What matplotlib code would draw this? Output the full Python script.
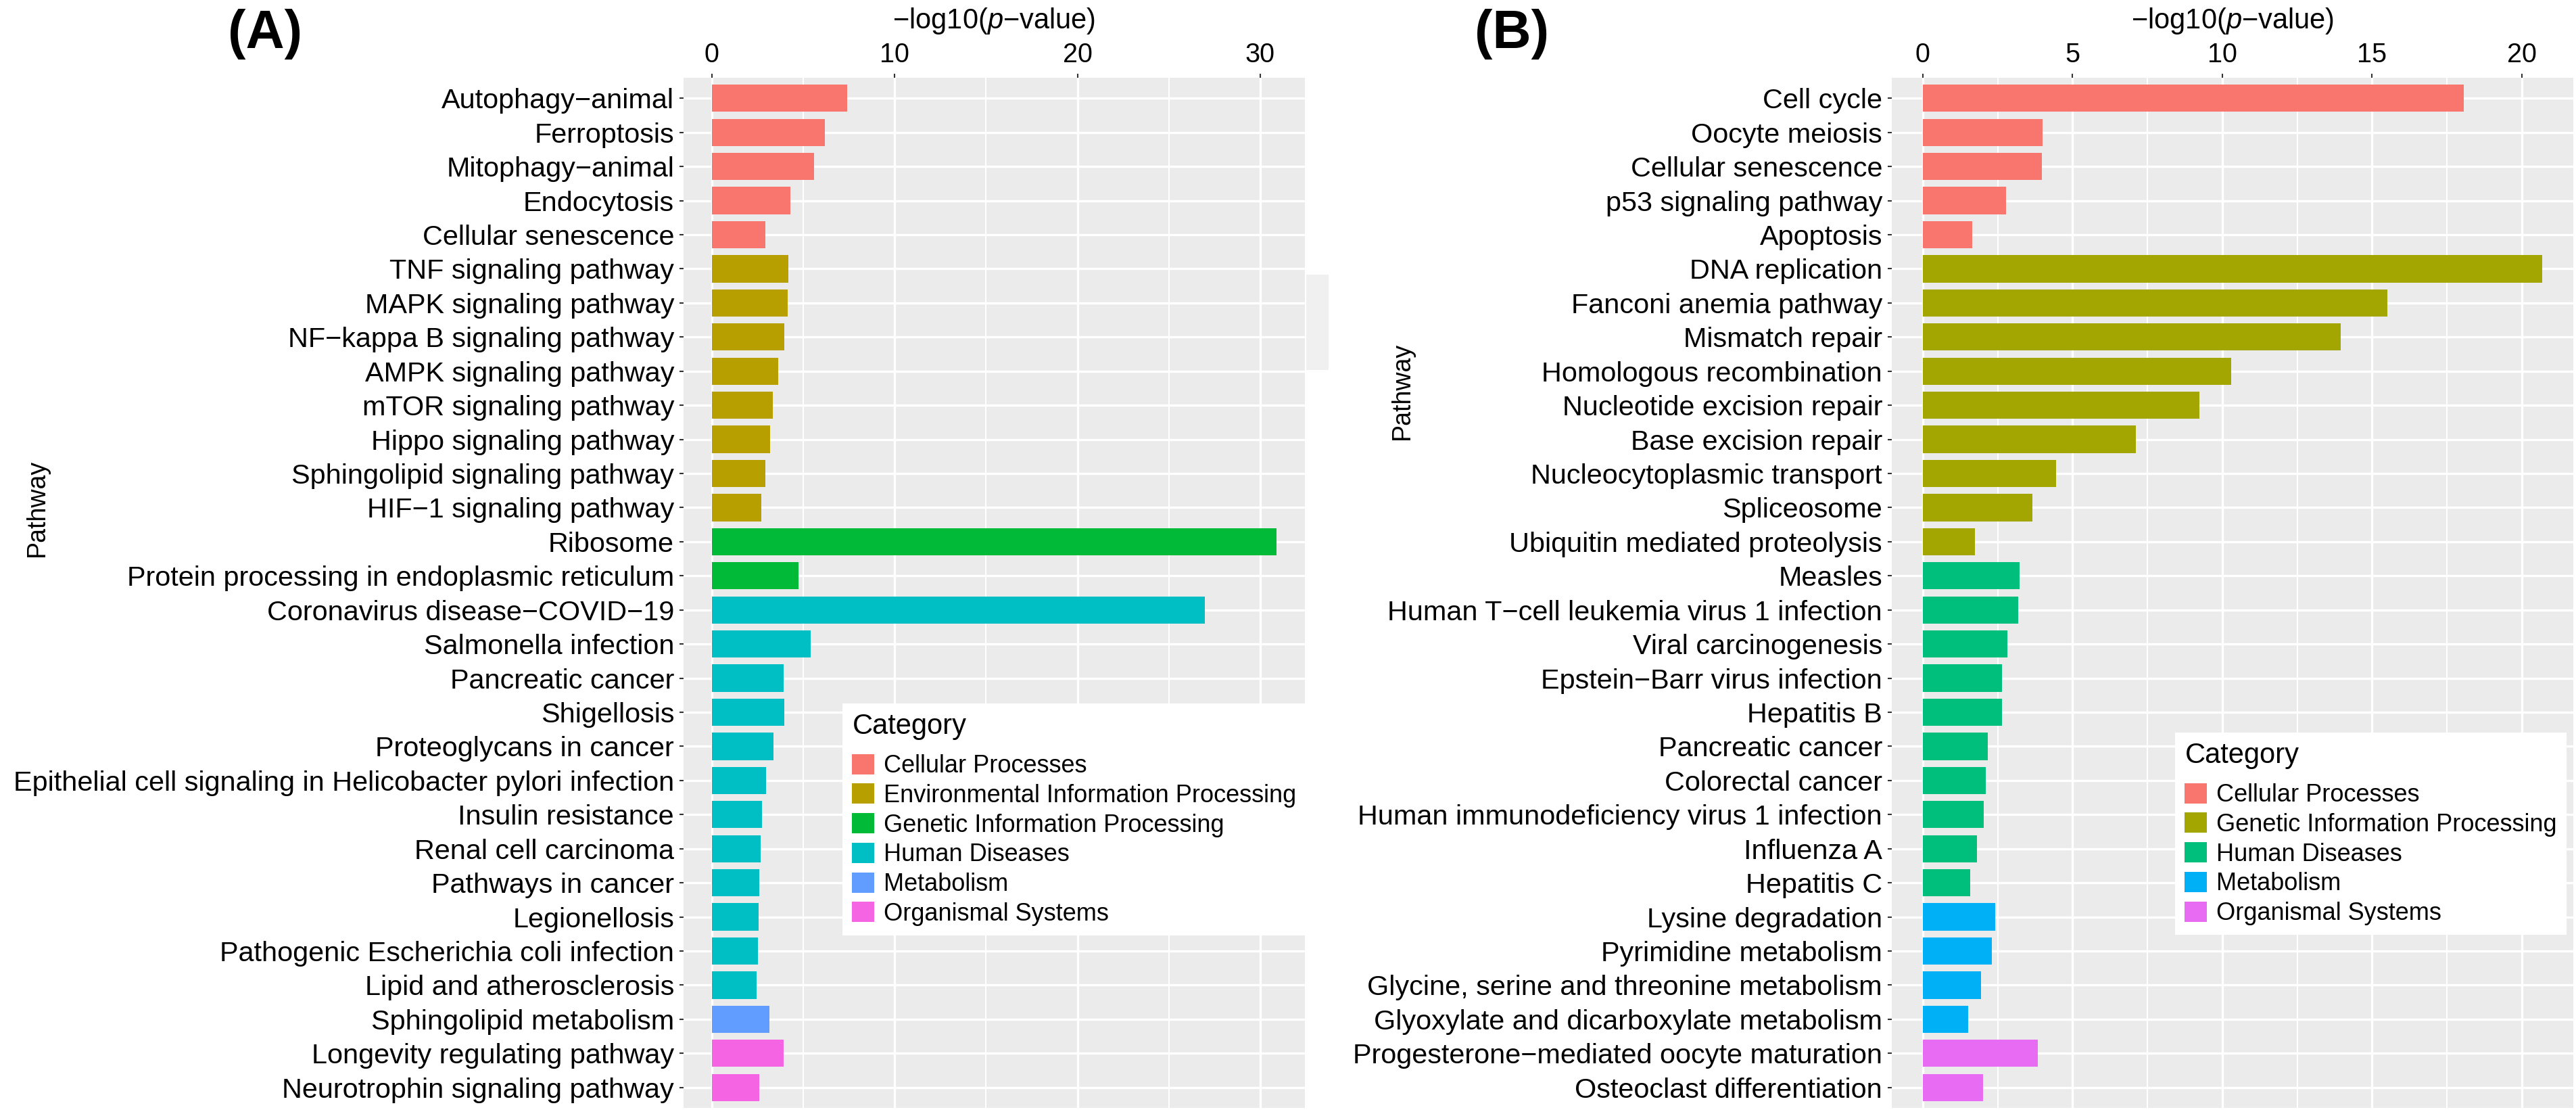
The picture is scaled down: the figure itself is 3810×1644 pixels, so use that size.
import matplotlib
matplotlib.use("Agg")
import matplotlib.pyplot as plt
from matplotlib.patches import Patch, Rectangle
import numpy as np

plt.rcParams['font.family'] = ['Liberation Sans', 'DejaVu Sans']
plt.rcParams['mathtext.fontset'] = 'custom'
plt.rcParams['mathtext.it'] = 'Liberation Sans:italic'
plt.rcParams['mathtext.rm'] = 'Liberation Sans'

# ---------------- panel A data ----------------
pathways_a = ["Autophagy−animal", "Ferroptosis", "Mitophagy−animal", "Endocytosis",
              "Cellular senescence", "TNF signaling pathway", "MAPK signaling pathway",
              "NF−kappa B signaling pathway", "AMPK signaling pathway", "mTOR signaling pathway",
              "Hippo signaling pathway", "Sphingolipid signaling pathway", "HIF−1 signaling pathway",
              "Ribosome", "Protein processing in endoplasmic reticulum", "Coronavirus disease−COVID−19",
              "Salmonella infection", "Pancreatic cancer", "Shigellosis", "Proteoglycans in cancer",
              "Epithelial cell signaling in Helicobacter pylori infection", "Insulin resistance",
              "Renal cell carcinoma", "Pathways in cancer", "Legionellosis",
              "Pathogenic Escherichia coli infection", "Lipid and atherosclerosis",
              "Sphingolipid metabolism", "Longevity regulating pathway", "Neurotrophin signaling pathway"]
values_a = [7.39, 6.17, 5.60, 4.29, 2.93, 4.17, 4.14, 3.95, 3.64, 3.33, 3.20, 2.93, 2.71,
            30.9, 4.75, 26.98, 5.40, 3.93, 3.95, 3.38, 2.98, 2.74, 2.66, 2.61, 2.57, 2.53, 2.46,
            3.14, 3.93, 2.59]
cats_a = (["Cellular Processes"] * 5 + ["Environmental Information Processing"] * 8
          + ["Genetic Information Processing"] * 2 + ["Human Diseases"] * 12
          + ["Metabolism"] * 1 + ["Organismal Systems"] * 2)
cat_names_a = ["Cellular Processes", "Environmental Information Processing",
               "Genetic Information Processing", "Human Diseases", "Metabolism", "Organismal Systems"]
cat_colors_a = ["#F8766D", "#B79F00", "#00BA38", "#00BFC4", "#619CFF", "#F564E3"]

# ---------------- panel B data ----------------
pathways_b = ["Cell cycle", "Oocyte meiosis", "Cellular senescence", "p53 signaling pathway",
              "Apoptosis", "DNA replication", "Fanconi anemia pathway", "Mismatch repair",
              "Homologous recombination", "Nucleotide excision repair", "Base excision repair",
              "Nucleocytoplasmic transport", "Spliceosome", "Ubiquitin mediated proteolysis",
              "Measles", "Human T−cell leukemia virus 1 infection", "Viral carcinogenesis",
              "Epstein−Barr virus infection", "Hepatitis B", "Pancreatic cancer", "Colorectal cancer",
              "Human immunodeficiency virus 1 infection", "Influenza A", "Hepatitis C",
              "Lysine degradation", "Pyrimidine metabolism", "Glycine, serine and threonine metabolism",
              "Glyoxylate and dicarboxylate metabolism", "Progesterone−mediated oocyte maturation",
              "Osteoclast differentiation"]
values_b = [18.05, 4.00, 3.98, 2.77, 1.66, 20.68, 15.5, 13.96, 10.3, 9.24, 7.11, 4.46, 3.67, 1.75,
            3.22, 3.19, 2.82, 2.65, 2.65, 2.16, 2.11, 2.03, 1.80, 1.58, 2.41, 2.31, 1.95, 1.52,
            3.84, 2.02]
cats_b = (["Cellular Processes"] * 5 + ["Genetic Information Processing"] * 9
          + ["Human Diseases"] * 10 + ["Metabolism"] * 4 + ["Organismal Systems"] * 2)
cat_names_b = ["Cellular Processes", "Genetic Information Processing", "Human Diseases",
               "Metabolism", "Organismal Systems"]
cat_colors_b = ["#F8766D", "#A3A500", "#00BF7D", "#00B0F6", "#E76BF3"]

W, H = 3810, 1644
fig = plt.figure(figsize=(W / 100, H / 100), dpi=100)


def px(x0, y0, x1, y1):
    # pixel box -> figure fraction rect
    return [x0 / W, 1 - y1 / H, (x1 - x0) / W, (y1 - y0) / H]


def draw_panel(ax, names, vals, cats, cat_names, cat_colors, step, leg_xy):
    y = np.arange(len(names))
    cols = [cat_colors[cat_names.index(c)] for c in cats]
    ax.set_facecolor('#EBEBEB')
    ax.barh(y, vals, height=0.8, color=cols, zorder=3)
    vmax = max(vals)
    ax.set_xlim(-0.05 * vmax, 1.05 * vmax)
    ax.set_ylim(len(names) - 0.4, -0.6)
    ax.xaxis.tick_top()
    ax.xaxis.set_label_position('top')
    ax.set_xticks(np.arange(0, vmax + 0.01, step))
    ax.set_xticks(np.arange(step / 2, vmax * 1.05, step), minor=True)
    ax.set_yticks(y, names)
    ax.grid(which='major', color='white', lw=2.4, zorder=0)
    ax.grid(which='minor', axis='x', color='white', lw=1.5, zorder=0)
    ax.set_axisbelow(True)
    for s in ax.spines.values():
        s.set_visible(False)
    ax.tick_params(which='major', length=4, width=1.5, color='#333333')
    ax.tick_params(which='minor', length=0)
    ax.tick_params(axis='y', labelsize=29.8, pad=6)
    ax.tick_params(axis='x', labelsize=28.5, pad=7)
    ax.set_xlabel('−log10($p$−value)', fontsize=30, labelpad=14)
    handles = [Patch(facecolor=c, edgecolor='none') for c in cat_colors]
    leg = ax.legend(handles, cat_names, title='Category', loc='upper left',
                    bbox_to_anchor=leg_xy, bbox_transform=fig.transFigure,
                    fontsize=26, title_fontsize=30, frameon=True, fancybox=False,
                    handlelength=0.9, handleheight=0.9, handletextpad=0.4,
                    labelspacing=0.23, borderpad=0.4, borderaxespad=0,
                    alignment='left')
    leg._legend_box.sep = 14.5  # gap between title and keys (points)
    leg.get_frame().set_facecolor('white')
    leg.get_frame().set_edgecolor('none')
    leg.get_frame().set_alpha(1)


ax_a = fig.add_axes(px(1011, 115, 1930, 1638))
draw_panel(ax_a, pathways_a, values_a, cats_a, cat_names_a, cat_colors_a, 10,
           (1246 / W, 1 - 1040 / H))
ax_b = fig.add_axes(px(2798, 115, 3806, 1638))
draw_panel(ax_b, pathways_b, values_b, cats_b, cat_names_b, cat_colors_b, 5,
           (3217 / W, 1 - 1083 / H))

# panel tags and y titles
fig.text(392 / W, 1 - 51 / H, '(A)', fontsize=57, fontweight='bold', ha='center', va='center')
fig.text(2236 / W, 1 - 51 / H, '(B)', fontsize=57, fontweight='bold', ha='center', va='center')
fig.text(55 / W, 1 - 751 / H, 'Pathway', fontsize=27, rotation=90, ha='center', va='center')
fig.text(2074 / W, 1 - 578 / H, 'Pathway', fontsize=27, rotation=90, ha='center', va='center')

# faint leftover box between the panels
fig.add_artist(Rectangle((1932 / W, 1 - 547 / H), 33 / W, 141 / H,
                         transform=fig.transFigure, color='#F0F0F0', lw=0))

fig.savefig('out.png', dpi=100)
